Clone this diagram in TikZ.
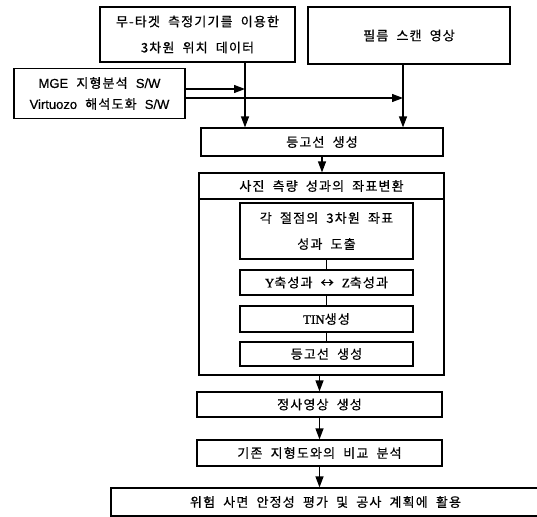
\documentclass[tikz,border=0pt]{standalone}
\usepackage{fontspec}
\setmainfont{Noto Sans CJK KR}[LetterSpace=9, WordSpace=2, FakeBold=0.6]
\newfontfamily\latinserif{Liberation Serif}[FakeBold=1.2]
\newfontfamily\latinsans{Liberation Sans}[FakeBold=0.6]
\usetikzlibrary{positioning,arrows.meta}

\begin{document}
\begin{tikzpicture}[x=1pt, y=1pt,
    box/.style={rectangle, draw, line width=1.2pt, text centered, inner sep=0pt, font=\fontsize{13}{26}\selectfont},
    arrow/.style={-{Triangle[length=11pt,width=8pt]}, line width=1.2pt},
    link/.style={line width=1.2pt}]

    \useasboundingbox (0,0) rectangle (537,-516);

    % input data
    \node[box, minimum width=195pt, minimum height=55pt, align=center] (meas) at (197.5,-34.5) {무-타겟 측정기기를 이용한\\3차원 위치 데이터};
    \node[box, minimum width=202pt, minimum height=57pt] (film) at (409,-35.5) {필름 스캔 영상};
    \node[box, minimum width=171pt, minimum height=50pt, align=center, font=\fontsize{13}{21}\selectfont] (sw) at (99.5,-93.5) {{\latinsans MGE} 지형분석 {\latinsans S/W}\\{\latinsans Virtuozo} 해석도화 {\latinsans S/W}};

    % main flow
    \node[box, minimum width=242pt, minimum height=28pt] (contour) at (322,-142) {등고선 생성};
    \node[draw, line width=1.2pt, minimum width=245pt, minimum height=202pt, below of=contour, node distance=132pt, xshift=-0.5pt] (frame) {};
    \node[box, minimum width=245pt, minimum height=26pt, anchor=north] (title) at (frame.north) {사진 측량 성과의 좌표변환};

    % inside the transform box
    \node[box, minimum width=173pt, minimum height=56pt, align=center] (coord3d) at (326.5,-231) {각 절점의 3차원 좌표\\성과 도출};
    \node[box, minimum width=173pt, minimum height=25pt, below of=coord3d, node distance=51.5pt] (yzswap) {{\latinserif Y}축성과 ↔ {\latinserif Z}축성과};
    \node[box, minimum width=173pt, minimum height=26pt, below of=yzswap, node distance=36.5pt] (tin) {{\latinserif TIN}생성};
    \node[box, minimum width=173pt, minimum height=24pt, below of=tin, node distance=35pt] (contour2) {등고선 생성};

    \node[box, minimum width=245pt, minimum height=25pt, below of=frame, node distance=130.5pt, xshift=-2pt] (ortho) {정사영상 생성};
    \node[box, minimum width=245pt, minimum height=26pt, below of=ortho, node distance=48.5pt] (compare) {기존 지형도와의 비교 분석};
    \node[box, minimum width=429pt, minimum height=28pt, below of=compare, node distance=49pt, xshift=6pt] (result) {위험 사면 안정성 평가 및 공사 계획에 활용};

    \coordinate (measout) at ([xshift=47.5pt]meas.south);
    \coordinate (filmout) at ([xshift=-6pt]film.south);
    \coordinate (swmge) at ([yshift=4.5pt]sw.east);
    \coordinate (swvir) at ([yshift=-4.5pt]sw.east);

    \draw[arrow] (measout) -- (measout |- contour.north);
    \draw[arrow] (filmout) -- (filmout |- contour.north);
    \draw[arrow] (swmge) -- (swmge -| measout);
    \draw[arrow] (swvir) -- (swvir -| filmout);
    \draw[arrow] (contour.south) -- (contour.south |- title.north);

    \draw[link] (coord3d) -- (yzswap);
    \draw[link] (yzswap) -- (tin);
    \draw[link] (tin) -- (contour2);

    \draw[arrow] (ortho.north |- frame.south) -- (ortho.north);
    \draw[arrow] (compare.north |- ortho.south) -- (compare.north);
    \draw[arrow] (compare.south) -- (compare.south |- result.north);
\end{tikzpicture}
\end{document}
